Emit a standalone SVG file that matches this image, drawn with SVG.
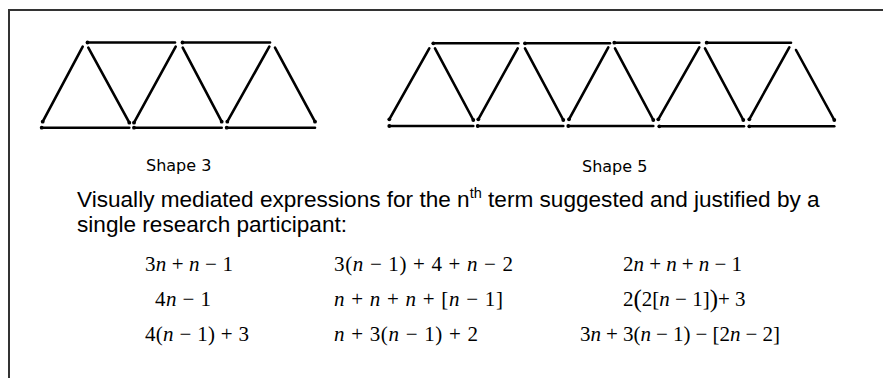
<svg xmlns="http://www.w3.org/2000/svg" width="883" height="378" viewBox="0 0 883 378">
<style>
.frame{fill:none;stroke:#333;stroke-width:2}
.m{stroke:#000;stroke-width:2.6;stroke-linecap:round;fill:none;marker-start:url(#dot)}
.lbl{font-family:"Comic Sans MS","DejaVu Sans",sans-serif;font-size:16px;fill:#000}
.txt{font-family:"Liberation Sans",Arial,sans-serif;font-size:22.6px;fill:#000}
.eq{font-family:"Liberation Serif","Times New Roman",serif;font-size:21px;fill:#000}
.i{font-style:italic}
</style>
<defs>
<marker id="dot" viewBox="-3 -3 6 6" markerWidth="6" markerHeight="6" markerUnits="userSpaceOnUse"><circle r="1.9" fill="#000"/></marker>
</defs>
<path class="frame" d="M9,378 V10 H883"/>
<g id="shape3">
<line class="m" x1="87.5" y1="42.5" x2="175" y2="42.5"/>
<line class="m" x1="182.5" y1="42.5" x2="270" y2="42.5"/>
<line class="m" x1="41.7" y1="127.7" x2="129.3" y2="127.7"/>
<line class="m" x1="134" y1="127.7" x2="221.7" y2="127.7"/>
<line class="m" x1="226.7" y1="127.7" x2="315" y2="127.7"/>
<line class="m" x1="42.7" y1="121.7" x2="82.7" y2="46.7"/>
<line class="m" x1="129.3" y1="122.7" x2="88.3" y2="47.7"/>
<line class="m" x1="134" y1="122.7" x2="175.7" y2="46.7"/>
<line class="m" x1="221.7" y1="121.7" x2="182.7" y2="47.7"/>
<line class="m" x1="227.3" y1="121.7" x2="269.3" y2="46.7"/>
<line class="m" x1="315" y1="121.7" x2="275" y2="47.7"/>
</g>
<g id="shape5">
<line class="m" x1="433.3" y1="43.3" x2="518.3" y2="43.3"/>
<line class="m" x1="525" y1="43.3" x2="610" y2="43.3"/>
<line class="m" x1="614.3" y1="42.7" x2="699.3" y2="42.7"/>
<line class="m" x1="706.7" y1="42.7" x2="791" y2="42.7"/>
<line class="m" x1="389.3" y1="126" x2="473.3" y2="126"/>
<line class="m" x1="477.7" y1="126" x2="563.3" y2="126"/>
<line class="m" x1="568.3" y1="126" x2="653.3" y2="126"/>
<line class="m" x1="659.3" y1="126.3" x2="744" y2="126.3"/>
<line class="m" x1="749.3" y1="126.3" x2="834.3" y2="126.3"/>
<line class="m" x1="389.3" y1="119.3" x2="429.3" y2="48.3"/>
<line class="m" x1="473.3" y1="120" x2="435" y2="48.3"/>
<line class="m" x1="478.3" y1="119.3" x2="517.7" y2="48.3"/>
<line class="m" x1="563.3" y1="120" x2="525" y2="48.3"/>
<line class="m" x1="569" y1="119.3" x2="608.3" y2="47.3"/>
<line class="m" x1="653.3" y1="120" x2="615" y2="48.3"/>
<line class="m" x1="658.3" y1="119.3" x2="699.3" y2="47.3"/>
<line class="m" x1="743.3" y1="120" x2="705" y2="48.3"/>
<line class="m" x1="749.3" y1="119.3" x2="789.3" y2="47.3"/>
<line class="m" x1="834.3" y1="120" x2="796" y2="50"/>
</g>
<g id="labels">
<text class="lbl" x="146" y="171">Shape 3</text>
<text class="lbl" x="582" y="172">Shape 5</text>
</g>
<g id="caption">
<text class="txt" x="77" y="207">Visually mediated expressions for the n<tspan font-size="14.5" dy="-9">th</tspan><tspan dy="9"> term suggested and justified by a</tspan></text>
<text class="txt" x="77" y="232">single research participant:</text>
</g>
<g id="expressions" class="eq" xml:space="preserve">
<text x="145" y="271" textLength="88" lengthAdjust="spacing">3<tspan class="i">n</tspan> + <tspan class="i">n</tspan> − 1</text>
<text x="155" y="306" textLength="56" lengthAdjust="spacing">4<tspan class="i">n</tspan> − 1</text>
<text x="145" y="341" textLength="104" lengthAdjust="spacing">4(<tspan class="i">n</tspan> − 1) + 3</text>
<text x="334" y="271" textLength="179" lengthAdjust="spacing">3(<tspan class="i">n</tspan> − 1) + 4 + <tspan class="i">n</tspan> − 2</text>
<text x="334" y="306" textLength="169" lengthAdjust="spacing"><tspan class="i">n</tspan> + <tspan class="i">n</tspan> + <tspan class="i">n</tspan> + [<tspan class="i">n</tspan> − 1]</text>
<text x="334" y="341" textLength="144" lengthAdjust="spacing"><tspan class="i">n</tspan> + 3(<tspan class="i">n</tspan> − 1) + 2</text>
<text x="623" y="271" textLength="119" lengthAdjust="spacing">2<tspan class="i">n</tspan> + <tspan class="i">n</tspan> + <tspan class="i">n</tspan> − 1</text>
<text x="623" y="306">2<tspan font-size="25" dy="1">(</tspan><tspan dy="-1">2[</tspan><tspan class="i">n</tspan> − 1]<tspan font-size="25" dy="1">)</tspan><tspan dy="-1">+ 3</tspan></text>
<text x="580" y="341" textLength="200" lengthAdjust="spacing">3<tspan class="i">n</tspan> + 3(<tspan class="i">n</tspan> − 1) − [2<tspan class="i">n</tspan> − 2]</text>
</g>
</svg>
